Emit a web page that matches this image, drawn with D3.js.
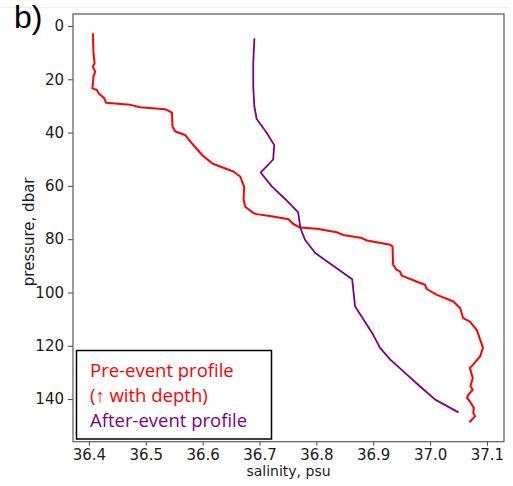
<!DOCTYPE html>
<html>
<head>
<meta charset="utf-8">
<script src="https://cdn.jsdelivr.net/npm/d3@7"></script>
<style>
  body { margin: 0; background: #fff; }
  svg { display: block; }
</style>
</head>
<body>
<svg id="body" width="513" height="486"></svg>
<script>
// pre-event profile (salinity psu, pressure dbar)
let preSal = [36.407, 36.408, 36.410, 36.407, 36.411, 36.408, 36.407, 36.406, 36.414, 36.417,
  36.427, 36.430, 36.473, 36.490, 36.534, 36.546, 36.547, 36.552, 36.569, 36.581,
  36.599, 36.613, 36.618, 36.654, 36.666, 36.673, 36.672, 36.675, 36.689, 36.695,
  36.724, 36.751, 36.760, 36.771, 36.801, 36.836, 36.847, 36.880, 36.889, 36.930,
  36.934, 36.935, 36.941, 36.947, 36.950, 36.976, 36.991, 36.994, 37.012, 37.041,
  37.053, 37.058, 37.070, 37.082, 37.088, 37.093, 37.088, 37.073, 37.070, 37.075,
  37.071, 37.075, 37.067, 37.065, 37.070, 37.077, 37.076, 37.079, 37.069];
let prePres = [2.7, 10.2, 14.0, 15.3, 17.1, 19.0, 21.5, 23.4, 24.0, 25.2,
  27.1, 28.8, 29.6, 30.5, 31.2, 32.5, 37.8, 39.6, 40.9, 44.0,
  48.4, 50.9, 51.7, 54.6, 56.5, 60.3, 65.2, 67.8, 70.2, 70.6,
  71.5, 72.5, 74.4, 75.6, 76.1, 77.4, 78.4, 79.6, 80.5, 82.1,
  82.8, 89.6, 91.5, 92.1, 93.7, 95.9, 97.1, 98.7, 100.9, 103.4,
  105.9, 109.6, 110.9, 114.0, 117.7, 120.8, 124.0, 127.7, 128.3, 132.1,
  135.2, 136.5, 138.4, 139.6, 140.9, 143.3, 145.2, 146.5, 148.7];

// after-event profile
let postSal = [36.691, 36.689, 36.689, 36.691, 36.695, 36.712, 36.726, 36.724, 36.702, 36.722,
  36.746, 36.768, 36.772, 36.780, 36.798, 36.863, 36.868, 36.900, 36.912, 36.930,
  36.953, 36.982, 37.009, 37.050];
let postPres = [4.6, 14.0, 22.8, 30.3, 34.9, 39.9, 44.7, 50.1, 55.0, 60.3,
  65.1, 69.9, 75.9, 80.2, 85.2, 95.0, 105.2, 115.9, 120.8, 125.2,
  129.6, 135.2, 140.2, 145.0];

let xTicks = [36.4, 36.5, 36.6, 36.7, 36.8, 36.9, 37.0, 37.1];
let yTicks = [0, 20, 40, 60, 80, 100, 120, 140];
let legendLines = ["Pre-event profile", "(\u2191 with depth)", "After-event profile"];
let legendColors = ["#ff0000", "#ff0000", "#800080"];

let svg = d3.select("#body");
let pLeft = 73, pRight = 504, pTop = 14, pBottom = 441.7;

let x = d3.scaleLinear().domain([36.372, 37.130]).range([pLeft, pRight]);
let y = d3.scaleLinear().domain([-4.5, 156]).range([pTop, pBottom]);

// faint line at top of the slide
svg.append('line')
   .attr('x1', 0).attr('x2', 508)
   .attr('y1', 7.5).attr('y2', 7.5)
   .attr('stroke', '#eeeeee');

svg.append('text')
   .attr('x', 14).attr('y', 28)
   .attr('font-family', 'Liberation Sans, Arial, sans-serif')
   .attr('font-size', 32)
   .attr('fill', '#000')
   .text('b)');

// axes
let xAxis = svg.append('g')
   .attr('transform', `translate(0,${pBottom})`)
   .call(d3.axisBottom(x).tickValues(xTicks).tickFormat(d3.format('.1f')).tickSize(4).tickPadding(4));
let yAxis = svg.append('g')
   .attr('transform', `translate(${pLeft},0)`)
   .call(d3.axisLeft(y).tickValues(yTicks).tickSize(5).tickPadding(4));

[xAxis, yAxis].forEach(a => {
  a.select('.domain').remove();
  a.selectAll('line').attr('stroke', '#444');
  a.selectAll('text')
   .attr('font-family', 'DejaVu Sans, sans-serif')
   .attr('font-size', 15)
   .attr('fill', '#1a1a1a');
});

svg.append('text')
   .attr('x', (pLeft + pRight) / 2).attr('y', 476)
   .attr('text-anchor', 'middle')
   .attr('font-family', 'DejaVu Sans, sans-serif')
   .attr('font-size', 14)
   .attr('fill', '#1a1a1a')
   .text('salinity, psu');

svg.append('text')
   .attr('transform', `translate(34,${(pTop + pBottom) / 2 + 4}) rotate(-90)`)
   .attr('text-anchor', 'middle')
   .attr('font-family', 'DejaVu Sans, sans-serif')
   .attr('font-size', 15)
   .attr('fill', '#1a1a1a')
   .text('pressure, dbar');

// profiles
let line = d3.line().x(d => x(d[0])).y(d => y(d[1]));

svg.append('path')
   .datum(preSal.map((s, i) => [s, prePres[i]]))
   .attr('d', line)
   .attr('fill', 'none')
   .attr('stroke', '#ff0000')
   .attr('stroke-width', 2)
   .attr('stroke-linejoin', 'round');

svg.append('path')
   .datum(postSal.map((s, i) => [s, postPres[i]]))
   .attr('d', line)
   .attr('fill', 'none')
   .attr('stroke', '#800080')
   .attr('stroke-width', 1.8)
   .attr('stroke-linejoin', 'round');

// frame
svg.append('rect')
   .attr('x', pLeft).attr('y', pTop)
   .attr('width', pRight - pLeft).attr('height', pBottom - pTop)
   .attr('fill', 'none')
   .attr('stroke', '#666')
   .attr('stroke-width', 1.3);

// legend
let lg = svg.append('g');
lg.append('rect')
  .attr('x', 76.5).attr('y', 350.5)
  .attr('width', 195).attr('height', 88.5)
  .attr('fill', '#fff')
  .attr('stroke', '#000')
  .attr('stroke-width', 1.5);

lg.selectAll('text')
  .data(legendLines)
  .enter()
  .append('text')
    .attr('x', 90)
    .attr('y', (d, i) => 377 + i * 25)
    .attr('font-family', 'Open Sans, Liberation Sans, Arial, sans-serif')
    .attr('font-size', 18.5)
    .attr('fill', (d, i) => legendColors[i])
    .text(d => d);
</script>
</body>
</html>
